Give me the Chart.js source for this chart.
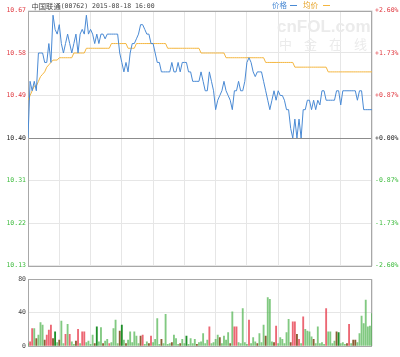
<!DOCTYPE html>
<html><head><meta charset="utf-8">
<script src="https://cdn.jsdelivr.net/npm/chart.js@4"></script>
<style>
html,body{margin:0;padding:0;background:#fff;}
#wrap{position:relative;width:400px;height:357px;overflow:hidden;background:#fff;}
#c1{position:absolute;left:0;top:0;}
#c2{position:absolute;left:0;top:270px;}
</style></head><body>
<div id="wrap"><canvas id="c1" width="400" height="275"></canvas><canvas id="c2" width="400" height="87"></canvas></div>
<script>
const stockName = '中国联通';
const titleRest = '(00762) 2015-08-18 16:00';
const legendLabels = ['价格', '均价'];
const watermarkLatin = 'cnFOL.com';
const watermarkCJK = ['中', '金', '在', '线'];
const prevClose = 10.40;
const priceTicks = [10.13, 10.22, 10.31, 10.40, 10.49, 10.58, 10.67];
const pctTicks = [-2.60, -1.73, -0.87, 0, 0.87, 1.73, 2.60];
const volumeTicks = [0, 40, 80];
const stepMinutes = 2;
const sessionMinutes = 330;

const price = [
 10.40,10.52,10.50,10.52,10.50,10.58,10.58,10.58,10.56,10.56,
 10.60,10.56,10.66,10.63,10.62,10.64,10.60,10.58,10.60,10.62,
 10.60,10.58,10.60,10.62,10.58,10.62,10.63,10.62,10.66,10.62,
 10.63,10.62,10.60,10.62,10.60,10.62,10.62,10.61,10.62,10.62,
 10.62,10.62,10.62,10.62,10.58,10.56,10.54,10.56,10.54,10.58,
 10.60,10.60,10.61,10.62,10.64,10.64,10.63,10.62,10.62,10.60,
 10.60,10.58,10.56,10.56,10.54,10.54,10.54,10.54,10.54,10.56,
 10.54,10.54,10.56,10.54,10.56,10.56,10.56,10.54,10.54,10.52,
 10.52,10.52,10.52,10.54,10.52,10.50,10.50,10.54,10.52,10.50,
 10.46,10.48,10.49,10.50,10.52,10.50,10.49,10.48,10.46,10.50,
 10.50,10.52,10.50,10.50,10.52,10.56,10.57,10.56,10.54,10.53,
 10.54,10.54,10.54,10.52,10.50,10.48,10.46,10.48,10.50,10.48,
 10.50,10.49,10.49,10.48,10.46,10.46,10.42,10.40,10.44,10.40,
 10.44,10.40,10.46,10.46,10.48,10.48,10.46,10.48,10.46,10.48,
 10.47,10.50,10.50,10.48,10.48,10.48,10.48,10.48,10.50,10.50,
 10.47,10.50,10.50,10.50,10.50,10.50,10.50,10.50,10.48,10.50,
 10.50,10.46,10.46,10.46,10.46,10.46
];
const avgPrice = [
 10.48,10.49,10.50,10.51,10.51,10.52,10.53,10.535,10.54,10.55,
 10.555,10.56,10.565,10.565,10.565,10.57,10.57,10.57,10.57,10.57,
 10.57,10.57,10.58,10.58,10.58,10.58,10.58,10.58,10.59,10.59,
 10.59,10.59,10.59,10.59,10.59,10.59,10.59,10.59,10.59,10.59,
 10.60,10.60,10.60,10.60,10.60,10.60,10.60,10.60,10.59,10.59,
 10.59,10.59,10.60,10.60,10.60,10.60,10.60,10.60,10.60,10.60,
 10.60,10.60,10.60,10.60,10.60,10.60,10.60,10.59,10.59,10.59,
 10.59,10.59,10.59,10.59,10.59,10.59,10.59,10.59,10.59,10.59,
 10.59,10.59,10.59,10.58,10.58,10.58,10.58,10.58,10.58,10.58,
 10.58,10.58,10.58,10.58,10.58,10.57,10.57,10.57,10.57,10.57,
 10.57,10.57,10.57,10.57,10.57,10.57,10.57,10.57,10.57,10.57,
 10.57,10.57,10.57,10.57,10.56,10.56,10.56,10.56,10.56,10.56,
 10.56,10.56,10.56,10.56,10.56,10.56,10.56,10.56,10.55,10.55,
 10.55,10.55,10.55,10.55,10.55,10.55,10.55,10.55,10.55,10.55,
 10.55,10.55,10.55,10.55,10.54,10.54,10.54,10.54,10.54,10.54,
 10.54,10.54,10.54,10.54,10.54,10.54,10.54,10.54,10.54,10.54,
 10.54,10.54,10.54,10.54,10.54,10.54
];
const volume = [
 3,5,21,21,9,13,28,25,7,13,
 19,25,9,17,4,7,30,3,14,26,
 14,5,2,6,20,3,17,17,4,6,
 2,13,3,23,5,22,3,6,8,3,
 4,21,31,3,18,25,7,3,7,17,
 4,17,12,3,12,13,2,5,3,12,
 4,8,33,2,8,3,38,2,3,4,
 13,9,2,3,8,3,12,2,9,3,
 8,2,4,5,15,3,7,23,3,4,
 8,13,10,3,12,7,16,3,41,23,
 23,4,3,45,4,2,31,3,10,5,
 3,15,4,25,12,58,56,5,4,24,
 3,10,8,3,16,32,4,29,29,14,
 8,3,35,20,18,17,11,8,3,23,
 3,4,2,45,17,17,3,6,17,16,
 3,4,2,3,26,3,7,7,4,15,
 36,27,55,23,24,39
];
const volumeKind = [
 'grrgbgggbr','rrbGgbggrg','rggbrgrrgg','ggbGggbggr','ggggbGgbgg',
 'ggggbrggbr','ggggbggggb','gggbggGggg','gbgggggrgg','ggbggggbgr',
 'rgggggrggg','bgggbgggbr','ggggggbrrb','rgrggggbgg','gggrggggbG',
 'gggbrgbbgg','gggggg'
].join('');

const C = {
  blue: '#4a8ad4', gold: '#f4b63f', grid: '#e6e6e6', frame: '#a8a8a8', zero: '#8c8c8c',
  up: '#e0383f', down: '#3dbb3d', flat: '#222', text: '#444',
  bar: { g: 'rgba(80,180,80,0.72)', G: '#1f8f2a', r: 'rgba(232,70,85,0.82)', b: '#8b5e34' }
};
const monoFont = '"DejaVu Sans Mono", "Liberation Mono", monospace';
const cjkFont = '"Noto Sans CJK SC", sans-serif';

function signColor(v, ref) {
  if (Math.abs(v - ref) < 1e-9) return C.flat;
  return v > ref ? C.up : C.down;
}
const pts = arr => arr.map((v, i) => ({ x: i * stepMinutes, y: v }));

const frame = {
  id: 'frame',
  beforeDatasetsDraw(chart) {
    const { ctx, chartArea: a } = chart;
    ctx.save();
    ctx.strokeStyle = C.frame; ctx.lineWidth = 1;
    ctx.strokeRect(Math.round(a.left) + 0.5, Math.round(a.top) + 0.5,
      Math.round(a.right - a.left) - 1, Math.round(a.bottom - a.top));
    ctx.restore();
  }
};

const decor = {
  id: 'decor',
  beforeDatasetsDraw(chart) {
    const { ctx } = chart;
    ctx.save();
    ctx.fillStyle = '#ebebeb';
    ctx.textBaseline = 'middle';
    ctx.font = 'bold 17px "Liberation Sans", sans-serif';
    ctx.fillText(watermarkLatin, 277, 27);
    ctx.font = '13px ' + cjkFont;
    watermarkCJK.forEach((ch, k) => ctx.fillText(ch, 279 + k * 25, 44));
    ctx.restore();
  },
  afterDraw(chart) {
    const { ctx } = chart;
    ctx.save();
    ctx.textBaseline = 'middle';
    ctx.fillStyle = C.text;
    ctx.font = '7.3px ' + cjkFont;
    ctx.fillText(stockName, 31.5, 6.5);
    const w = ctx.measureText(stockName).width;
    ctx.font = '6.5px ' + monoFont;
    ctx.fillText(titleRest, 31.5 + w, 6.5);
    ctx.font = '7.5px ' + cjkFont;
    ctx.fillStyle = C.blue;
    ctx.fillText(legendLabels[0], 272, 5.5);
    ctx.fillStyle = '#e6a020';
    ctx.fillText(legendLabels[1], 303, 5.5);
    ctx.lineWidth = 1;
    ctx.strokeStyle = C.blue;
    ctx.beginPath(); ctx.moveTo(290, 5.5); ctx.lineTo(297, 5.5); ctx.stroke();
    ctx.strokeStyle = C.gold;
    ctx.beginPath(); ctx.moveTo(323, 5.5); ctx.lineTo(330, 5.5); ctx.stroke();
    ctx.restore();
  }
};

new Chart(document.getElementById('c1'), {
  type: 'line',
  data: {
    datasets: [
      { label: legendLabels[0], data: pts(price), borderColor: C.blue, borderWidth: 1, pointRadius: 0, tension: 0, yAxisID: 'y', order: 1 },
      { label: legendLabels[1], data: pts(avgPrice), borderColor: C.gold, borderWidth: 1, pointRadius: 0, tension: 0, yAxisID: 'y', order: 2 }
    ]
  },
  options: {
    responsive: false, animation: false, events: [],
    layout: { padding: { top: 10.5, left: 0, right: 0, bottom: 0 } },
    plugins: { legend: { display: false }, tooltip: { enabled: false } },
    scales: {
      x: {
        type: 'linear', min: 0, max: sessionMinutes,
        ticks: { display: false, stepSize: 30 },
        grid: { color: C.grid, drawTicks: false },
        border: { display: false },
        afterFit(s) { s.height = 9.5; }
      },
      y: {
        position: 'left', min: priceTicks[0], max: priceTicks[priceTicks.length - 1],
        afterBuildTicks(s) { s.ticks = priceTicks.map(v => ({ value: v })); },
        ticks: {
          callback: v => v.toFixed(2),
          color: c => signColor(c.tick.value, prevClose),
          font: { family: monoFont, size: 6.5 }, padding: 2
        },
        grid: { color: c => Math.abs(c.tick.value - prevClose) < 1e-9 ? C.zero : C.grid, drawTicks: false },
        border: { display: false },
        afterFit(s) { s.width = 28; }
      },
      yPct: {
        position: 'right', min: pctTicks[0], max: pctTicks[pctTicks.length - 1],
        afterBuildTicks(s) { s.ticks = pctTicks.map(v => ({ value: v })); },
        ticks: {
          callback: v => (v >= 0 ? '+' : '') + v.toFixed(2) + '%',
          color: c => signColor(c.tick.value, 0),
          font: { family: monoFont, size: 6.5 }, padding: 3
        },
        grid: { display: false, drawTicks: false },
        border: { display: false },
        afterFit(s) { s.width = 28; }
      }
    }
  },
  plugins: [frame, decor]
});

new Chart(document.getElementById('c2'), {
  type: 'bar',
  data: {
    datasets: [{
      data: pts(volume),
      backgroundColor: volumeKind.split('').map(k => C.bar[k]),
      barThickness: 1.2, borderWidth: 0
    }]
  },
  options: {
    responsive: false, animation: false, events: [],
    layout: { padding: { top: 9.3, left: 0, right: 28, bottom: 0 } },
    plugins: { legend: { display: false }, tooltip: { enabled: false } },
    scales: {
      x: {
        type: 'linear', min: 0, max: sessionMinutes, offset: false,
        ticks: { display: false, stepSize: 30 },
        grid: { color: C.grid, drawTicks: false, offset: false },
        border: { display: false },
        afterFit(s) { s.height = 11; }
      },
      y: {
        min: volumeTicks[0], max: volumeTicks[volumeTicks.length - 1],
        afterBuildTicks(s) { s.ticks = volumeTicks.map(v => ({ value: v })); },
        ticks: { color: C.text, font: { family: monoFont, size: 6.5 }, padding: 2 },
        grid: { color: C.grid, drawTicks: false },
        border: { display: false },
        afterFit(s) { s.width = 28; }
      }
    }
  },
  plugins: [frame]
});
</script>
</body></html>
